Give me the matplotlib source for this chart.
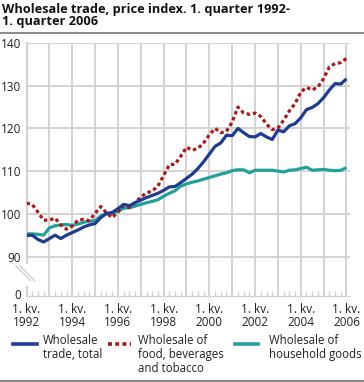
import matplotlib
matplotlib.use("Agg")
import matplotlib.pyplot as plt
from matplotlib.lines import Line2D
import numpy as np

plt.rcParams['font.family'] = ['Open Sans', 'DejaVu Sans']

# quarterly index, 1992 Q1 - 2006 Q1
total = [94.9, 95.0, 94.0, 93.4, 94.2, 95.0, 94.2, 95.0, 95.6, 96.2,
         96.9, 97.4, 97.7, 99.1, 100.1, 100.3, 101.2, 102.2, 101.9, 102.6,
         103.2, 103.8, 104.3, 104.8, 105.5, 106.3, 106.4, 107.3, 108.3, 109.3,
         110.6, 112.2, 114.0, 115.8, 116.6, 118.4, 118.3, 120.0, 119.0, 118.1,
         118.0, 118.8, 118.0, 117.4, 119.6, 119.2, 120.6, 121.1, 122.5, 124.4,
         124.9, 125.8, 127.2, 129.0, 130.5, 130.4, 131.6]
food = [102.5, 102.2, 100.4, 98.5, 98.5, 99.0, 97.4, 96.4, 97.1, 98.5,
        98.7, 98.4, 100.1, 101.7, 100.2, 99.1, 100.4, 101.9, 101.5, 102.6,
        103.9, 104.9, 105.3, 106.5, 109.0, 111.5, 111.6, 113.5, 115.6, 114.9,
        115.3, 116.6, 118.5, 120.0, 119.0, 119.3, 121.5, 125.0, 123.6, 123.3,
        123.6, 122.8, 121.0, 119.7, 120.1, 121.9, 124.1, 125.8, 128.5, 129.6,
        129.0, 129.7, 131.7, 134.4, 135.2, 135.4, 136.4]
household = [95.3, 95.3, 95.2, 95.0, 96.7, 97.2, 97.4, 97.5, 97.3, 97.6,
             98.0, 98.3, 98.4, 99.5, 100.0, 100.1, 100.6, 101.3, 101.4, 101.8,
             102.2, 102.6, 102.9, 103.3, 104.1, 104.8, 105.4, 106.5, 107.0, 107.4,
             107.7, 108.1, 108.5, 108.9, 109.3, 109.6, 110.1, 110.3, 110.3, 109.6,
             110.2, 110.2, 110.2, 110.2, 110.0, 109.8, 110.2, 110.3, 110.6, 110.9,
             110.2, 110.3, 110.4, 110.2, 110.1, 110.2, 110.8]
labels = ["Wholesale\ntrade, total",
          "Wholesale of\nfood, beverages\nand tobacco",
          "Wholesale of\nhousehold goods"]
years = [1992, 1994, 1996, 1998, 2000, 2002, 2004, 2006]
yticks = [90, 100, 110, 120, 130, 140]

c_total = '#1f3c92'
c_food = '#a8191e'
c_house = '#22a09b'
grid_c = '#d3d3d3'

q = np.arange(len(total))
ybot = 80.75

fig = plt.figure(figsize=(3.64, 3.82), dpi=100)
ax = fig.add_axes([26.5/364, 1-296/382, (350-26.5)/364, (296-43)/382])

# grid
for y in yticks:
    ax.axhline(y, color=grid_c, lw=1.4, zorder=0)
for yr in range(1993, 2007):
    ax.axvline((yr-1992)*4, color=grid_c, lw=1.4, zorder=0)

ax.plot(q, household, color=c_house, lw=2.3, solid_capstyle='butt', zorder=3)
ax.plot(q, food, color=c_food, lw=2.3, linestyle=(0, (1.1, 0.9)), zorder=4)
ax.plot(q, total, color=c_total, lw=2.3, solid_capstyle='butt', zorder=5)

ax.set_xlim(0, (350-26.5)/(320/56))
ax.set_ylim(ybot, 140)

for s in ['top', 'right']:
    ax.spines[s].set_visible(False)
ax.spines['bottom'].set_color(grid_c)
ax.spines['bottom'].set_linewidth(1.0)
ax.spines['left'].set_visible(False)
# broken left axis
ax.plot([0, 0], [140, 88.5], color=grid_c, lw=1.6, clip_on=False, zorder=1)
ax.plot([0, 0], [ybot, 82.9], color=grid_c, lw=1.6, clip_on=False, zorder=1)
for dx in (-1.9, -1.2):
    ax.plot([dx, dx + 2.6], [87.9, 84.3], color=grid_c, lw=1.1, clip_on=False)

ax.set_yticks([ybot + 0.4] + yticks)
ax.set_yticklabels(['0'] + [str(v) for v in yticks])
ax.tick_params(axis='y', length=0, pad=4, labelsize=8.5, colors='#222222')

ax.set_xticks([(y-1992)*4 for y in years])
ax.set_xticklabels(['1. kv.\n%d' % y for y in years], linespacing=1.0)
ax.set_xticks([i for i in q if i % 4 != 0], minor=True)
ax.tick_params(axis='x', which='major', length=0, pad=5, labelsize=8.5, colors='#222222')
ax.tick_params(axis='x', which='minor', direction='in', length=3.5, width=1.0, color=grid_c)

# title and rules
fig.text(2/364, 1-3/382, "Wholesale trade, price index. 1. quarter 1992-\n1. quarter 2006",
         fontsize=9.2, fontweight='bold', va='top', ha='left', linespacing=0.95, color='#111111')
fig.add_artist(Line2D([0, 1], [1-32.5/382]*2, color='#8a8a8a', lw=1.4, transform=fig.transFigure))
fig.add_artist(Line2D([0, 1], [1-380.5/382]*2, color='#8a8a8a', lw=1.6, transform=fig.transFigure))

# legend
legend_pos = [(13, 37, 43), (108, 131, 138), (235, 258, 269)]
styles = [dict(color=c_total, lw=2.6),
          dict(color=c_food, lw=2.6, linestyle=(0, (1.1, 0.9))),
          dict(color=c_house, lw=2.6)]
for (x0, x1, xt), st, lab in zip(legend_pos, styles, labels):
    fig.add_artist(Line2D([x0/364, x1/364], [1-344/382]*2, transform=fig.transFigure, **st))
    fig.text(xt/364, 1-334/382, lab, fontsize=8.3, va='top', ha='left', linespacing=1.1, color='#222222')

fig.savefig('out.png', dpi=100)
